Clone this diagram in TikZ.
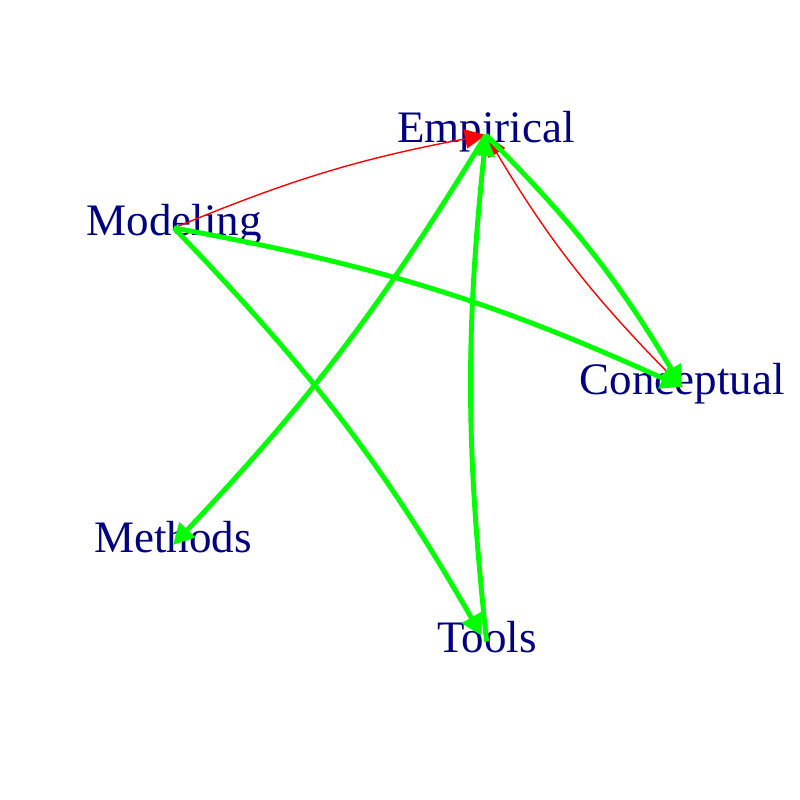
\documentclass[tikz,border=0pt]{standalone}
\usepackage{fontspec}
\setmainfont{Liberation Serif}
\usetikzlibrary{arrows.meta}
\definecolor{navy}{RGB}{0,0,128}
\definecolor{lime}{RGB}{0,255,0}

\begin{document}
\begin{tikzpicture}[x=0.01cm,y=-0.01cm,
    vlabel/.style={inner sep=0pt,text height=0.66em,text depth=0.25em,text=navy,font=\fontsize{12.8}{14}\selectfont},
    strong/.style={draw=lime,line width=1.4pt,-{Triangle[length=6pt,width=6pt]}},
    weak/.style={draw=red,line width=0.4pt,-{Triangle[length=6pt,width=5.5pt]}}]
    \useasboundingbox (0,0) rectangle (800,800);
    % vertices
    \node[vlabel] (emp) at (486,135) {Empirical};
    \node[vlabel] (mod) at (174,228) {Modeling};
    \node[vlabel] (con) at (682,387) {Conceptual};
    \node[vlabel] (met) at (173,545) {Methods};
    \node[vlabel] (too) at (487,645) {Tools};
    % edges
    \draw[weak] (mod.center) to[bend left=6] (emp.center);
    \draw[weak] (con.center) to[bend left=7] (emp.center);
    \draw[strong] (emp.center) to[bend left=7] (con.center);
    \draw[strong] (mod.center) to[bend left=7] (con.center);
    \draw[strong,shorten >=3pt] (mod.center) to[bend left=7] (too.center);
    \draw[strong] (emp.center) to[bend left=6] (met.center);
    \draw[strong,shorten <=1pt] (too.center) to[bend left=6] (emp.center);
\end{tikzpicture}
\end{document}
